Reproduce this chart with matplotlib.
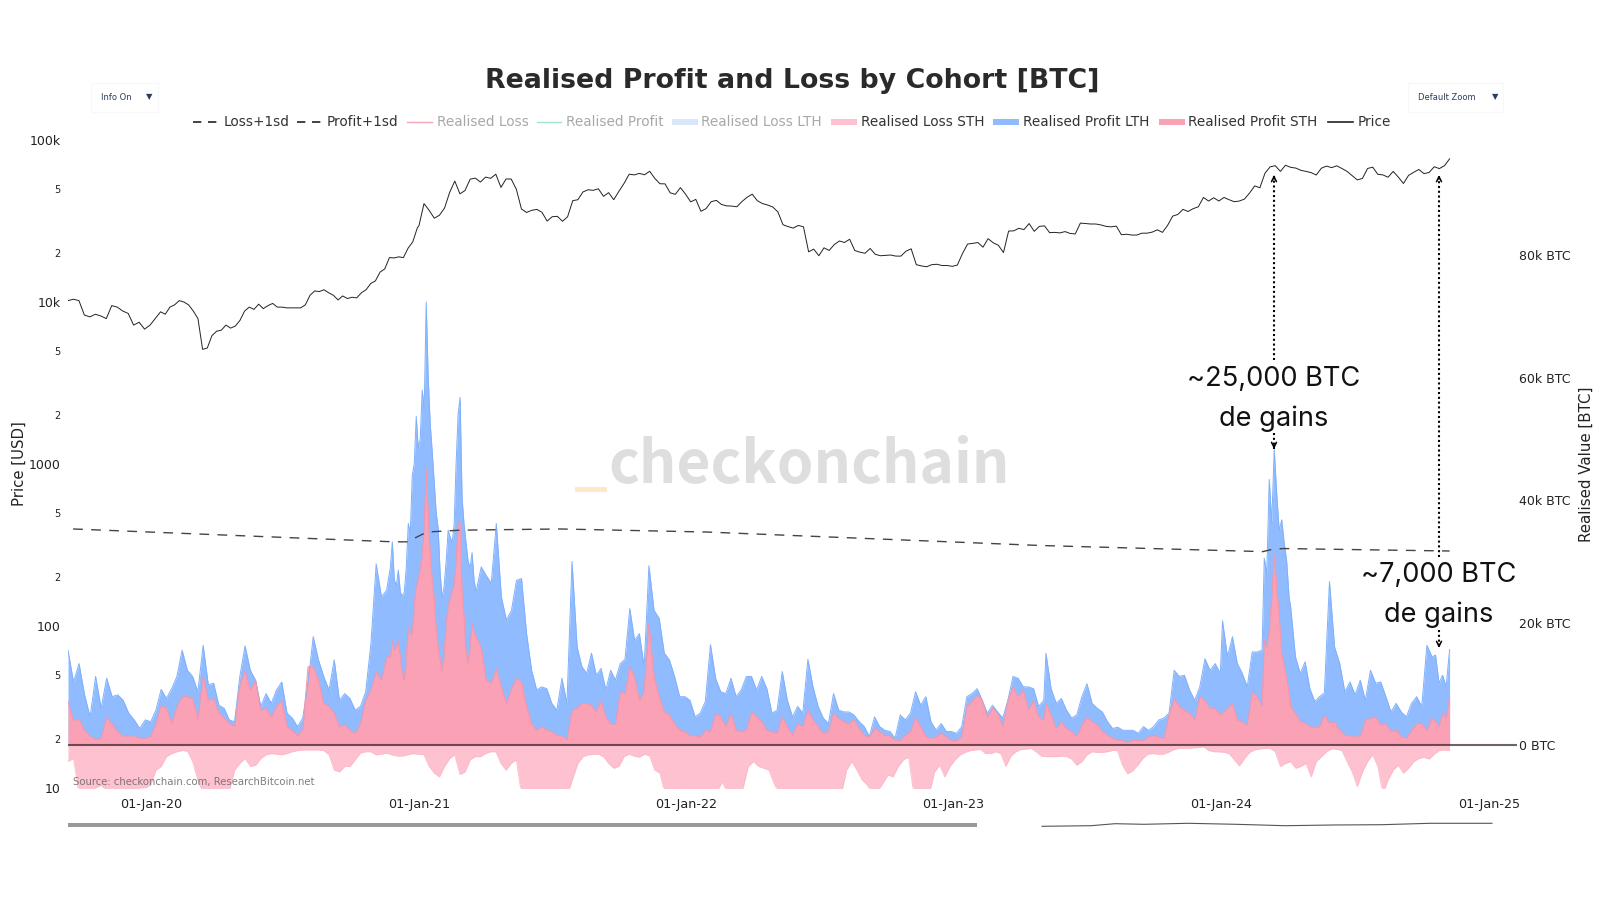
import matplotlib
matplotlib.use("Agg")
import matplotlib.pyplot as plt
from matplotlib.patches import Rectangle
import numpy as np
import pandas as pd

# price, USD thousands, roughly weekly
price_2019 = [10.2,10.4,10.2,8.3,8.1,8.4,8.2,7.9,9.5,9.3,8.8,8.5,7.2,7.5,6.8,7.2]
price_2020 = [8.0,8.7,8.4,9.3,9.6,10.2,10.0,9.6,8.8,7.9,5.1,5.2,6.2,6.6,6.7,7.2,6.9,7.1,7.7,8.8,9.3,9.0,9.7,9.1,9.5,9.8,
              9.3,9.3,9.2,9.2,9.2,9.2,9.6,11.0,11.7,11.6,11.9,11.4,11.0,10.3,10.9,10.5,10.7,10.6,11.4,11.9,13.0,13.5,15.3,
              16.0,18.8,18.7,19.0,18.8,21.5,23.5,28.8]
price_2021 = [29.5,40.5,36.8,32.9,34.3,38,47.5,55.8,46.5,48.8,57.3,58.2,55,59,58,61.5,51,57.5,57.4,49.7,37.5,35.7,36.8,37.3,35.8,31.6,
              33.6,33.8,31.5,33.6,42.2,42.8,47.8,49.3,48.9,50,44.9,47.3,42.8,48.2,53.9,61.5,60.9,62.2,61,64.1,58,53.7,53.6,47.2,46.2,50.8,46.3]
price_2022 = [41.5,43,36.3,37.7,41.6,42.4,40,39.2,39.1,38.7,41.7,44.3,46.3,42.2,40.5,39.7,38.6,36,30,29.2,28.6,29.7,29.1,20.4,21.2,19.3,
              21.6,20.8,22.6,23.8,23.3,24.4,20.8,20.3,20,21.4,19.7,19.3,19.4,19.5,19.2,19.2,20.6,21.3,17,16.7,16.5,17,17.1,16.8,16.8,16.6]
price_2023 = [16.9,19.9,22.8,23,23.3,21.8,24.6,23.2,22.4,20.2,27.4,27.5,28.5,28,30.5,27.3,29.3,29.5,26.8,26.9,26.7,27.2,26.5,26.3,30.7,30.5,
              30.3,30.3,29.9,29.3,29.1,29.4,26,26.2,25.9,25.9,26.6,26.6,27,27.9,26.9,29.7,33.9,34.7,37.3,36.2,37.7,38.7,44.2,42,44,42]
price_2024 = [44.2,42.8,41.6,42,43.2,47.1,52.1,50.7,62.4,68.3,69.4,64,69.9,67.8,67.1,65,64,62.9,60.8,67,69,67.5,69.3,66.7,64,60.3,56.7,
              57.9,66.7,68,61.4,60.9,58.9,64,59,53.9,60.5,63.2,65.8,62,63,68.4,66.6,69.4,76.5]

# top of the stack (LTH + STH profit), thousand BTC
total_2019 = [15.5,10.3,13.3,8.2,4.6,11.2,6.0,10.9,7.9,8.2,7.3,5.2,4.1,2.7,4.1,3.8]
total_2020 = [5.7,9.1,7.6,9.2,11.2,15.5,12.2,11.2,8.7,16.3,9.8,10.1,6.5,6.0,4.1,3.8,11.2,16.2,12.2,10.6,6.3,8.4,6.8,9,10.3,5.2,4.4,3,4.4,
              10.1,17.7,13.9,11.2,9,13.9,7.3,8.4,7.6,5.7,6.3,8.7,16.6,29.6,24.2,25.3]
total_peak21 = [29,33.2,27,26,28.6,25,24.3,25,29,36.2,34.5,44,46,53.7,48.5,50,58,55,72.4,60,52.5,48,43,38,35.4,28,24,26,30,35.1,34,33,36,46,54,
                56.8,40.3,36,33,30,29,31.4,27,25]
total_2021a = [29.1,27.7,26.4,36.2,24.2,20.4,22,26.9,27.2,18.2,12.2,9,9.5,9.2,6.8,5.7,10.9,6.8,30]
total_2021b = [16,12.8,11.7,15,11.4,12.5,9,12.2,10.6,13.3,14,22.3,17.1,18.2,12.8,29.3]
total_2021c = [22,20.7,15,13.9,11.2,7.9,7.9]
total_2022 = [7.3,4.6,5.2,7.1,16.4,10.9,8.7,8.4,10.9,7.9,9,11.2,11.2,9,11.2,9.2,5.2,5.7,12,7.3,4.6,6.3,5.2,14,9.5,6.3,4.4,3.5,8.4,5.7,5.4,5.4,
              4.9,3.8,3,1.4,4.6,3,2.4,2.2,1.1,4.9,4.1,5.2,8.7,6.5,7.9,3.8,2.4,3.5,2.2,2.2]
total_2023a = [1.9,3,7.9,8.4,9.2,7.3,5.2,6.5,5.4,4.4,7.3,11.2,10.9,9.5,9.5,9.2,6.3,7.3]
total_2023b = [15,9.2,6.8,7.6,5.7,4.4,4.9,7.9,10,6.8,6,5.4,3.8,2.7,2.9,2.4,2.4,2.4,1.9,3,2.4,3,4.1,4.4,5.2,12.2,11.2,11.4,9,7.3,9.5,14.1,12.2,13.3,11.7]
total_2024a = [20.3,14.4,17.7,13.3,11.7,9.5,15.2,15.2,15.5]
total_peak24 = [30.5,28,43.4,36.3,48.3,41,35,36.8,33,30,24]
total_2024b = [22.6,14.4,11.7,13.6,9.2,7.1,7.9,8.5]
total_2024c = [26.7,16,13.3,8.7,10.3,8.2,10.6,7.3,12.2,10.1,10.3,7.9,5.4,6.8,5.4,4.6,6.8,7.9,6.3,16.3]
total_2024d = [14.4,14.7,10.1,11.4,9.5,15.6]

# STH profit, thousand BTC
sth_2019 = [7.1,4.1,4.2,2.4,1.5,0.9,1.1,4.6,3.4,2.2,1.5,1.5,1.5,1.1,1.1,1.5]
sth_2020 = [3.5,6.5,6,3.5,6.3,7.9,7.9,7.6,4.1,11.2,7.3,7.6,5.2,4.4,3.5,3,9.8,12.2,9,10.6,5.7,6,4.6,6.3,7.3,3,2.4,1.5,2.4,12.8,12.8,10.6,6.8,6.3,
            5.2,3,3.3,2.4,1.9,3.5,7.3,9,12,10.6,14.4]
sth_peak21 = [14.4,17,15.5,16,17,14.5,11.5,10.6,14,19.3,18.2,18,23,26,27,29,31,36,45.2,38,31,27,24,19,16,14,12.2,15,20,22.6,24,25.3,26,30,36,36.5,
              25,21,15,13.3,16,19.9,18.5,17.7]
sth_2021a = [16,10.6,10.1,12.5,9.5,6.8,9.2,10.9,10.3,6.3,3.5,2.4,3,2.4,2.2,1.6,1.5,0.9,5.7]
sth_2021b = [6,6.8,6.8,6.5,5.4,7.3,4.6,3.5,3.4,8.7,8.4,12.8,11.2,7.3,8.7,19.9]
sth_2021c = [11.2,7.9,5.4,4.9,3.5,2.4,2.2]
sth_2022 = [1.6,1.5,1.3,2.4,2.2,5.2,4.6,3,5.2,2.4,2.2,2.4,5.4,4.6,3.8,2.4,2.2,1.9,4.6,3,1.6,3.5,3,5.7,4.1,3,1.9,2.2,5.2,4.4,3.8,3.5,4.1,2.7,1.6,
            1.3,2.7,2.2,1.6,1.5,0.8,0.7,1.6,2.2,4.5,3,1.4,1.1,1.3,2,1.3,0.7]
sth_2023a = [0.7,1.4,6.3,7.1,8.2,7.3,4.6,6,5.2,3,7.3,9.5,7.9,9,5.7,7.3,4.6,4.1]
sth_2023b = [6.8,4.9,2.7,3.8,2.7,2.2,1.4,3.3,4.6,3.8,3.3,2.2,1.6,1.1,0.8,0.7,0.5,0.8,0.7,0.8,1.3,1.6,1.3,1.1,4.9,7.6,6.3,5.7,5.2,4.1,7.9,7.3,6,6,4.9]
sth_2024a = [5.2,6,6.8,4.1,3.8,3.3,8.7,7.9,6.3]
sth_peak24 = [17.1,16,18.5,24,31,26,21,15,13,11,8.5]
sth_2024b = [6.3,5.2,3.8,3.6,3,2.9,3,4.9]
sth_2024c = [3.6,3.8,2.4,1.6,1.5,1.5,1.4,4.1,4.4,4.6,3.3,3.5,2.2,2.4,1.4,1.1,2.4,3.5,3.5,2.4]
sth_2024d = [4.4,3.8,3,5.2,4.4,7.9]

# STH loss, thousand BTC (anything past about 7 runs off the bottom)
loss_2019 = [2.7,2.2,8,8,7.5,7,6.6,7.5,7,8,7,7.5,8,7,7,6.5]
loss_2020 = [4.1,3.5,1.9,1.4,1.1,0.9,1,2.7,5.7,8,8,8,8,7.5,7.5,4.1,3,2.2,3.5,3.3,2.2,1.6,1.4,1.5,1.6,1.4,1.1,0.9,0.8,0.8,0.8,0.8,0.9,1.6,4.1,4.4,
             3.5,3.5,2.4,1.3,1.1,1.1,1.6,1.5,1.3,1.6,1.8,1.8,1.6,1.4,1.5]
loss_2021 = [1.6,3.5,4.6,5.2,3.5,2.2,1.6,4.8,4.4,2.4,1.9,1.9,1.4,1.1,1.1,3,4.1,3,2.4,8,8.5,9,9,9,9,8.5,8.5,
             8.5,8,5.5,3,1.9,1.6,1.5,1.5,1.9,3,3.8,3.5,1.9,1.5,1.8,2,1.5,1.8,4.1,4.6,8,8.5,8.5,7,8]
loss_2022 = [8,7.5,8,9,8,7.5,6,8,9,9,7,3.5,2.7,3.5,3.8,4.1,6.3,8,9,9,9,9,9,9,9,9,9,9,9,8,4.1,2.7,4.1,5.7,6.5,8,7.5,6.3,4.9,5.2,3.5,2.4,2,8,9,9,8,4.4,
             3.3,5.2,3.5]
loss_2023 = [2.4,1.6,1.2,0.9,0.8,0.7,1.4,1.4,1.1,1.4,3.5,1.8,1.1,0.7,0.65,0.55,1.1,1.8,1.9,1.9,1.9,1.8,1.9,2.3,3.3,2.7,1.6,1.1,1.2,1.2,1.1,0.9,0.9,
             3.3,4.7,4.2,3.3,2.2,1.5,1.4,1.5,1.5,1.2,0.8,0.55,0.55,0.55,0.45,0.4,0.3,0.9,1.1,1.1]
loss_2024 = [1.2,1.4,2.4,3.4,2.2,1.2,0.8,0.65,0.55,0.55,1.1,3.5,3,2.7,3.8,3.5,3,5.2,2.7,1.9,1.1,0.6,0.7,0.9,2.7,4.4,6.8,4.4,2.7,1.6,3.5,8,5.7,4.1,
             3.3,4.6,3.8,2.7,2.2,2,2.3,1.5,0.9,0.8,0.9]

# the one dashed band that is in range, thousand BTC
band_dates = ["2019-09-17","2020-11-27","2020-12-16","2021-01-12","2021-02-26","2021-07-12","2022-01-29","2022-09-13","2023-04-29",
              "2024-02-27","2024-03-12","2024-03-26","2024-11-08"]
profit_band = [35.3,33.2,33.2,34.8,35.1,35.3,34.8,33.7,32.6,31.6,32,32.1,31.7]

x_ticks = ["2020-01-01","2021-01-01","2022-01-01","2023-01-01","2024-01-01","2025-01-01"]
price_ticks = [10,20,50,100,200,500,1000,2000,5000,10000,20000,50000,100000]
price_labels = ["10","2","5","100","2","5","1000","2","5","10k","2","5","100k"]
btc_ticks = [0,20000,40000,60000,80000]
btc_labels = ["0 BTC","20k BTC","40k BTC","60k BTC","80k BTC"]

# slider trace below the chart, in pixels
slider_x = [1042,1091,1115,1144,1188,1236,1285,1333,1382,1430,1492]
slider_y = [826.3,825.7,823.7,824.3,823.3,824.3,825.7,825,824.7,823.3,823.3]

BLUE = "#90bcff"
RED = "#fba1b5"
LOSS = "#fec1cf"


def series(*parts):
    # each part is (first date, last date, values)
    xs, ys = [], []
    for start, end, vals in parts:
        xs.append(pd.date_range(start, end, periods=len(vals)))
        ys.append(np.array(vals, dtype=float))
    return np.concatenate([x.values for x in xs]), np.concatenate(ys)


price_x, price_y = series(("2019-09-10","2019-12-31",price_2019),("2020-01-08","2020-12-30",price_2020),
                          ("2021-01-01","2021-12-31",price_2021),("2022-01-07","2022-12-30",price_2022),
                          ("2023-01-06","2023-12-29",price_2023),("2024-01-05","2024-11-08",price_2024))
total_x, total_y = series(("2019-09-10","2020-01-01",total_2019),("2020-01-08","2020-11-18",total_2020),
                          ("2020-11-23","2021-03-20",total_peak21),("2021-03-27","2021-07-29",total_2021a),
                          ("2021-08-05","2021-11-11",total_2021b),("2021-11-18","2021-12-30",total_2021c),
                          ("2022-01-06","2022-12-29",total_2022),("2023-01-05","2023-05-04",total_2023a),
                          ("2023-05-07","2023-12-31",total_2023b),("2024-01-03","2024-02-26",total_2024a),
                          ("2024-02-29","2024-04-03",total_peak24),("2024-04-05","2024-05-21",total_2024b),
                          ("2024-05-28","2024-10-08",total_2024c),("2024-10-15","2024-11-08",total_2024d))
sth_x, sth_y = series(("2019-09-10","2020-01-01",sth_2019),("2020-01-08","2020-11-18",sth_2020),
                      ("2020-11-23","2021-03-20",sth_peak21),("2021-03-27","2021-07-29",sth_2021a),
                      ("2021-08-05","2021-11-11",sth_2021b),("2021-11-18","2021-12-30",sth_2021c),
                      ("2022-01-06","2022-12-29",sth_2022),("2023-01-05","2023-05-04",sth_2023a),
                      ("2023-05-07","2023-12-31",sth_2023b),("2024-01-03","2024-02-26",sth_2024a),
                      ("2024-02-29","2024-04-03",sth_peak24),("2024-04-05","2024-05-21",sth_2024b),
                      ("2024-05-28","2024-10-08",sth_2024c),("2024-10-15","2024-11-08",sth_2024d))
loss_x, loss_y = series(("2019-09-10","2020-01-01",loss_2019),("2020-01-08","2020-12-31",loss_2020),
                        ("2021-01-08","2021-12-31",loss_2021),("2022-01-08","2022-12-27",loss_2022),
                        ("2023-01-03","2023-12-29",loss_2023),("2024-01-05","2024-11-08",loss_2024))

fig = plt.figure(figsize=(16, 9), dpi=100, facecolor="white")
# plot area runs 68..1517 px across and 140..788 px down
ax = fig.add_axes([68/1600, 1-788/900, (1517-68)/1600, (788-140)/900])
ax2 = ax.twinx()

ax2.fill_between(total_x, 0, total_y*1000, color=BLUE, lw=0)
ax2.plot(total_x, total_y*1000, color="#7fb0fa", lw=0.7)
ax2.fill_between(sth_x, 0, sth_y*1000, color=RED, lw=0)
ax2.plot(sth_x, sth_y*1000, color="#f495aa", lw=0.7)
ax2.fill_between(loss_x, 0, -loss_y*1000, color=LOSS, lw=0)
ax2.plot(loss_x, -loss_y*1000, color="#fcb9c8", lw=0.6)
ax2.axhline(0, color="#2a1a1f", lw=1.5, alpha=0.68)
ax2.plot(pd.to_datetime(band_dates), np.array(profit_band)*1000, color="#444444", lw=1, dashes=(7, 6))

ax.plot(price_x, price_y*1000, color="#222222", lw=0.7)

ax.set_yscale("log")
ax.set_ylim(10, 100000)
ax2.set_ylim(-7026, 98857)
ax.set_xlim(pd.Timestamp("2019-09-10"), pd.Timestamp("2025-02-08"))

ax.set_xticks(pd.to_datetime(x_ticks))
ax.set_xticklabels([pd.Timestamp(d).strftime("%d-%b-%y") for d in x_ticks], fontsize=9.2, color="#222222")
ax.tick_params(axis="x", length=0, pad=7.5)
ax.set_yticks(price_ticks)
ax.set_yticklabels(price_labels)
ax.minorticks_off()
ax.tick_params(axis="y", length=0, pad=5.3, labelsize=9, labelcolor="#222222")
for lab in ax.get_yticklabels():
    if lab.get_text() in ("2", "5"):
        lab.set_fontsize(7)
ax2.set_yticks(btc_ticks)
ax2.set_yticklabels(btc_labels)
ax2.tick_params(axis="y", length=0, pad=1.4, labelsize=9, labelcolor="#222222")
ax.set_ylabel("Price [USD]", fontsize=10.7, color="#222222")
ax.yaxis.set_label_coords(-41/1449, 0.5)
ax2.set_ylabel("Realised Value [BTC]", fontsize=10.8, color="#222222", rotation=90)
ax2.yaxis.set_label_coords(1.0427, 0.5)
for a in (ax, ax2):
    for s in a.spines.values():
        s.set_visible(False)

# everything that is not data goes on a pixel overlay
ov = fig.add_axes([0, 0, 1, 1], zorder=5)
ov.set_xlim(0, 1600)
ov.set_ylim(900, 0)
ov.axis("off")

ov.text(792, 81, "Realised Profit and Loss by Cohort [BTC]", fontsize=19.3, fontweight="bold", color="#2a2a2a", ha="center", va="center")

# legend
ov.plot([193, 217], [122, 122], color="#222222", lw=1.2, dashes=(5, 4))
ov.plot([297, 321], [122, 122], color="#222222", lw=1.2, dashes=(5, 4))
ov.plot([407, 432], [122, 122], color="#f2a6b6", lw=1)
ov.plot([537, 561], [122, 122], color="#a4e2d2", lw=1)
ov.plot([1328, 1353], [122, 122], color="#222222", lw=1.2)
for x0, col in [(672, "#d8e7fc"), (831, LOSS), (993, BLUE), (1159, RED)]:
    ov.add_patch(Rectangle((x0, 119.3), 25.5, 5.7, color=col, lw=0))
leg_items = [(223.6,"Loss+1sd","#333333"),(326.5,"Profit+1sd","#333333"),(436.6,"Realised Loss","#a8a8a8"),(566,"Realised Profit","#a8a8a8"),
             (701,"Realised Loss LTH","#a8a8a8"),(860.8,"Realised Loss STH","#333333"),(1023,"Realised Profit LTH","#333333"),
             (1188.5,"Realised Profit STH","#333333"),(1357.4,"Price","#333333")]
for x0, txt, col in leg_items:
    ov.text(x0, 122.5, txt, fontsize=9.8, color=col, va="center")

# the two dropdown buttons
for x0, x1, txt, tx, tri in [(90.6, 157.6, "Info On", 100.7, 149), (1407.7, 1503, "Default Zoom", 1417.7, 1495)]:
    ov.add_patch(Rectangle((x0, 83), x1-x0, 28.7, facecolor="white", edgecolor="#f8f8f8", lw=0.8))
    ov.text(tx, 97, txt, fontsize=6, color="#2a3f5f", va="center")
    ov.text(tri, 97, "\u25bc", fontsize=6, color="#2a3f5f", va="center", ha="center")

# watermark
ov.text(608, 483, "checkonchain", fontsize=42.2, fontweight="bold", family="Noto Sans CJK JP", color="#dedede", va="baseline")
ov.add_patch(Rectangle((575, 487), 31.7, 5, color="#ffe8c8", lw=0))

ov.text(73, 782, "Source: checkonchain.com, ResearchBitcoin.net", fontsize=7.3, color="#666666", alpha=0.85, va="center")


def arrow_line(x, y0, y1):
    ov.plot([x, x], [y0, y1], color="black", lw=1.5, ls=(0, (1, 1.3)))
    step = 4 if y1 < y0 else -4
    ov.annotate("", xy=(x, y1), xytext=(x, y1+step), arrowprops=dict(arrowstyle="->", color="black", lw=1.1, mutation_scale=9, shrinkA=0, shrinkB=0))


arrow_line(1274, 360, 175)
arrow_line(1274, 433, 449)
arrow_line(1439, 557, 175)
arrow_line(1439, 630, 648)
for cx, y1, y2, txt in [(1274, 379, 419, "~25,000 BTC"), (1439, 575, 615, "~7,000 BTC")]:
    ov.text(cx, y1, txt, fontsize=19.6, family="Inter", color="#111111", ha="center", va="center")
    ov.text(cx, y2, "de gains", fontsize=19.6, family="Inter", color="#111111", ha="center", va="center")

# range slider
ov.add_patch(Rectangle((68, 822.7), 909, 4, color="#999999", lw=0))
ov.plot(slider_x, slider_y, color="#555555", lw=0.8)

fig.savefig("out.png", dpi=100)
